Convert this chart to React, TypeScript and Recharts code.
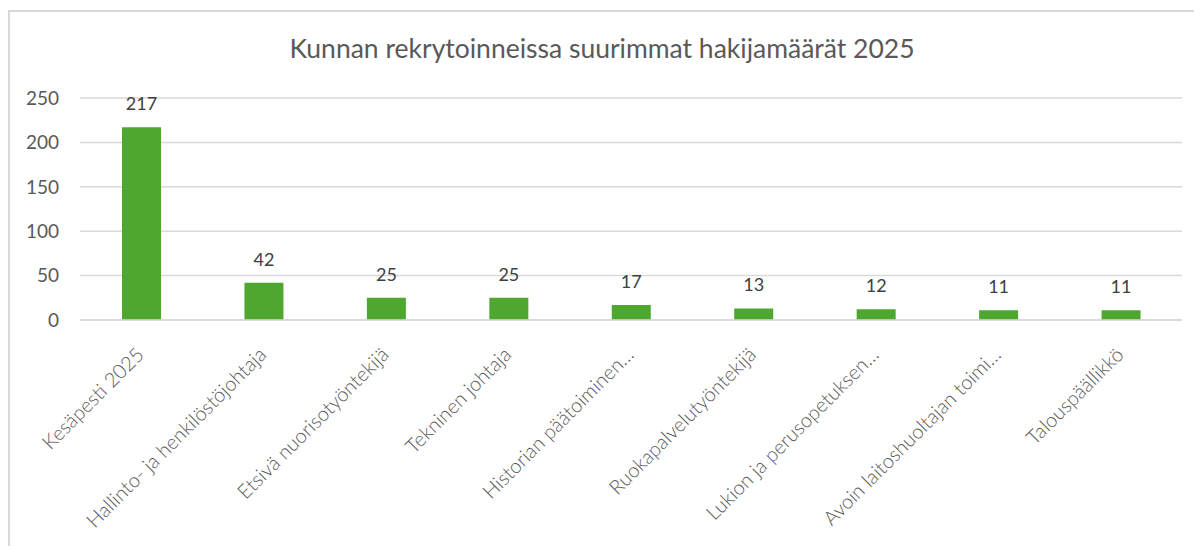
import { BarChart, Bar, XAxis, YAxis, CartesianGrid, LabelList } from "recharts";

const CATEGORIES = [
  "Kesäpesti 2025",
  "Hallinto- ja henkilöstöjohtaja",
  "Etsivä nuorisotyöntekijä",
  "Tekninen johtaja",
  "Historian päätoiminen…",
  "Ruokapalvelutyöntekijä",
  "Lukion ja perusopetuksen…",
  "Avoin laitoshuoltajan toimi…",
  "Talouspäällikkö",
];
const APPLICANTS = [217, 42, 25, 25, 17, 13, 12, 11, 11];
const Y_TICKS = [0, 50, 100, 150, 200, 250];

const TITLE = "Kunnan rekrytoinneissa suurimmat hakijamäärät 2025";
const GREEN = "#4EA72E";
const GRID = "#D9D9D9";

const data = CATEGORIES.map((name, i) => ({ name, value: APPLICANTS[i] }));

function AngledTick({ x, y, payload }: any) {
  return (
    <g transform={`translate(${x + 4},${y + 28})`}>
      <text textAnchor="end" transform="rotate(-45)" fill="#595959" fontSize={20} fontWeight={300}>
        {payload.value}
      </text>
    </g>
  );
}

export default function App() {
  return (
    <div
      style={{
        position: "absolute",
        left: 8,
        top: 10,
        width: 1186,
        height: 536,
        overflow: "hidden",
        boxSizing: "border-box",
        borderLeft: `2px solid ${GRID}`,
        borderTop: `2px solid ${GRID}`,
        fontFamily: "Lato, 'Open Sans', sans-serif",
        background: "#fff",
      }}
    >
      <div
        style={{
          position: "absolute",
          left: 0,
          right: 0,
          top: 23,
          textAlign: "center",
          fontSize: 26.5,
          lineHeight: 1,
          color: "#595959",
        }}
      >
        {TITLE}
      </div>
      <BarChart width={1184} height={534} data={data} margin={{ top: 86, right: 12, bottom: 0, left: 0 }}>
        <CartesianGrid vertical={false} stroke={GRID} strokeWidth={1.5} />
        <XAxis
          dataKey="name"
          interval={0}
          tickLine={false}
          axisLine={{ stroke: GRID, strokeWidth: 1.5 }}
          height={226}
          tick={<AngledTick />}
        />
        <YAxis
          domain={[0, 250]}
          ticks={Y_TICKS}
          width={70}
          axisLine={false}
          tickLine={false}
          tickMargin={15}
          tick={{ fontSize: 19, fill: "#595959" }}
        />
        <Bar dataKey="value" fill={GREEN} barSize={39} isAnimationActive={false}>
          <LabelList dataKey="value" position="top" offset={17} fill="#404040" fontSize={18} />
        </Bar>
      </BarChart>
    </div>
  );
}
